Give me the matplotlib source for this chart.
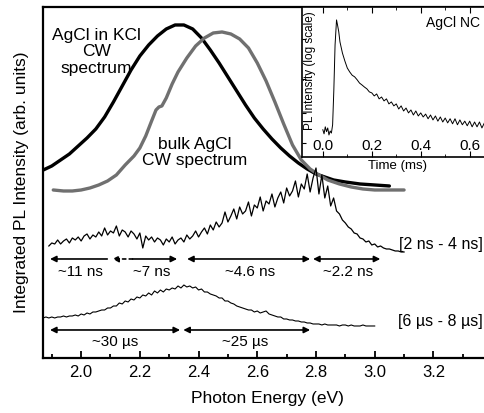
import numpy as np
import matplotlib
matplotlib.use("Agg")
import matplotlib.pyplot as plt
from matplotlib.ticker import MultipleLocator, FixedLocator, NullFormatter

plt.rcParams['font.family'] = ['Liberation Sans', 'DejaVu Sans']

# CW spectra (photon energy in eV, intensity in arb. units)
kcl_e = [1.871, 1.90, 1.93, 1.96, 1.99, 2.02, 2.05, 2.08, 2.11, 2.14,
         2.17, 2.20, 2.23, 2.26, 2.29, 2.32, 2.35, 2.38, 2.41, 2.44,
         2.47, 2.50, 2.53, 2.56, 2.59, 2.62, 2.65, 2.68, 2.71, 2.74,
         2.77, 2.80, 2.83, 2.86, 2.90, 2.95, 3.00, 3.05]
kcl_i = [1.88, 1.92, 1.98, 2.04, 2.12, 2.20, 2.29, 2.41, 2.56, 2.72,
         2.88, 3.02, 3.13, 3.22, 3.29, 3.33, 3.33, 3.29, 3.20, 3.08,
         2.95, 2.81, 2.67, 2.53, 2.40, 2.29, 2.19, 2.10, 2.02, 1.95,
         1.89, 1.84, 1.81, 1.78, 1.76, 1.74, 1.73, 1.72]

bulk_e = [1.905, 1.94, 1.97, 2.00, 2.03, 2.06, 2.09, 2.12, 2.15, 2.18,
          2.20, 2.22, 2.24, 2.255, 2.265, 2.275, 2.29, 2.31, 2.33, 2.36,
          2.39, 2.42, 2.45, 2.48, 2.51, 2.54, 2.57, 2.60, 2.63, 2.66,
          2.69, 2.72, 2.75, 2.78, 2.81, 2.84, 2.88, 2.92, 2.96, 3.00,
          3.05, 3.10]
bulk_i = [1.68, 1.67, 1.67, 1.68, 1.70, 1.73, 1.77, 1.83, 1.93, 2.02,
          2.10, 2.22, 2.37, 2.48, 2.51, 2.52, 2.60, 2.74, 2.86, 3.00,
          3.12, 3.20, 3.25, 3.26, 3.24, 3.19, 3.10, 2.95, 2.77, 2.56,
          2.34, 2.13, 1.98, 1.89, 1.83, 1.78, 1.74, 1.71, 1.69, 1.68,
          1.68, 1.68]

# time-resolved spectra, sampled every 0.01 eV
ns_start = 1.89
ns_i = [1.12, 1.15, 1.14, 1.18, 1.14, 1.17, 1.19, 1.15, 1.20, 1.18,
        1.21, 1.17, 1.22, 1.24, 1.19, 1.23, 1.21, 1.26, 1.22, 1.30,
        1.23, 1.27, 1.25, 1.32, 1.22, 1.28, 1.26, 1.21, 1.27, 1.24,
        1.19, 1.25, 1.10, 1.22, 1.18, 1.21, 1.16, 1.20, 1.18, 1.13,
        1.19, 1.16, 1.21, 1.14, 1.18, 1.20, 1.16, 1.23, 1.19, 1.22,
        1.27, 1.21, 1.26, 1.30, 1.24, 1.33, 1.28, 1.36, 1.31, 1.35,
        1.46, 1.36, 1.42, 1.49, 1.39, 1.51, 1.44, 1.47, 1.56, 1.42,
        1.53, 1.50, 1.61, 1.47, 1.57, 1.54, 1.64, 1.51, 1.60, 1.66,
        1.55, 1.70, 1.62, 1.67, 1.77, 1.61, 1.74, 1.69, 1.84, 1.66,
        1.80, 1.90, 1.64, 1.83, 1.60, 1.72, 1.52, 1.60, 1.47, 1.44,
        1.38, 1.35, 1.31, 1.29, 1.25, 1.24, 1.20, 1.19, 1.16, 1.17,
        1.13, 1.14, 1.11, 1.12, 1.10, 1.09, 1.09, 1.08, 1.07, 1.07,
        1.06, 1.06]

us_start = 1.87
us_i = [0.40, 0.41, 0.40, 0.41, 0.40, 0.41, 0.41, 0.42, 0.41, 0.42,
        0.42, 0.43, 0.42, 0.44, 0.43, 0.45, 0.44, 0.46, 0.46, 0.47,
        0.48, 0.48, 0.50, 0.50, 0.52, 0.52, 0.55, 0.54, 0.57, 0.56,
        0.59, 0.58, 0.61, 0.60, 0.63, 0.62, 0.65, 0.63, 0.67, 0.65,
        0.68, 0.66, 0.69, 0.68, 0.70, 0.69, 0.72, 0.70, 0.73, 0.71,
        0.72, 0.70, 0.71, 0.68, 0.69, 0.66, 0.66, 0.64, 0.63, 0.62,
        0.60, 0.60, 0.57, 0.57, 0.55, 0.54, 0.52, 0.51, 0.50, 0.49,
        0.48, 0.48, 0.46, 0.47, 0.45, 0.46, 0.47, 0.44, 0.43, 0.42,
        0.41, 0.41, 0.39, 0.39, 0.38, 0.38, 0.37, 0.37, 0.36, 0.36,
        0.35, 0.35, 0.34, 0.34, 0.34, 0.33, 0.34, 0.33, 0.33, 0.33,
        0.33, 0.32, 0.33, 0.33, 0.32, 0.33, 0.32, 0.32, 0.32, 0.33,
        0.32, 0.32, 0.32, 0.32]

# inset: PL decay, time in ms
decay_t = [0.000, 0.005, 0.010, 0.015, 0.020, 0.025, 0.030, 0.035, 0.040, 0.045,
           0.050, 0.056, 0.060, 0.065, 0.070, 0.080, 0.090, 0.100, 0.110, 0.120,
           0.130, 0.140, 0.150, 0.160, 0.170, 0.180, 0.190,
           0.20, 0.21, 0.22, 0.23, 0.24, 0.25, 0.26, 0.27, 0.28, 0.29,
           0.30, 0.31, 0.32, 0.33, 0.34, 0.35, 0.36, 0.37, 0.38, 0.39,
           0.40, 0.41, 0.42, 0.43, 0.44, 0.45, 0.46, 0.47, 0.48, 0.49,
           0.50, 0.51, 0.52, 0.53, 0.54, 0.55, 0.56, 0.57, 0.58, 0.59,
           0.60, 0.61, 0.62, 0.63, 0.64, 0.65, 0.66, 0.67, 0.68, 0.69, 0.70]
decay_i = [3.5, 2.9, 4.0, 3.2, 3.8, 2.75, 3.3, 3.0, 4.4, 22,
           174, 550, 437, 320, 200, 120, 83, 60, 50, 43,
           40, 35, 30, 27.5, 25, 23, 20,
           19.1, 16.6, 18.2, 14.5, 15.8, 13.2, 14.5, 11.5, 12.6, 10.5,
           11.5, 9.1, 10.5, 8.3, 9.5, 7.6, 8.7, 6.9, 8.3, 6.6,
           7.6, 6.3, 7.2, 5.8, 6.9, 5.5, 6.6, 5.2, 6.3, 5.0,
           6.0, 4.8, 5.8, 4.6, 5.8, 4.4, 5.5, 4.4, 5.2, 4.2,
           5.2, 4.0, 5.0, 4.0, 5.0, 3.8, 4.8, 3.8, 4.8, 3.8, 4.6]

# lifetime arrows: (start, end, y, style)
arrows_ns = [(1.894, 2.089, 0.99, '<|-'), (2.175, 2.327, 0.99, '-|>'),
             (2.361, 2.780, 0.99, '<|-|>'), (2.790, 3.019, 0.99, '<|-|>')]
arrows_us = [(1.894, 2.337, 0.28, '<|-|>'), (2.348, 2.780, 0.28, '<|-|>')]
labels_ns = [(1.997, '~11 ns'), (2.242, '~7 ns'), (2.576, '~4.6 ns'), (2.91, '~2.2 ns')]
labels_us = [(2.116, '~30 µs'), (2.56, '~25 µs')]

ns_e = np.round(ns_start + 0.01 * np.arange(len(ns_i)), 2)
us_e = np.round(us_start + 0.01 * np.arange(len(us_i)), 2)

fig = plt.figure(figsize=(4.84, 4.13), dpi=100)
ax = fig.add_axes([0.0888, 0.1332, 0.928, 0.8499])

ax.plot(kcl_e, kcl_i, color='black', lw=2.4, solid_capstyle='round', solid_joinstyle='round')
ax.plot(bulk_e, bulk_i, color='#707070', lw=2.4, solid_capstyle='round', solid_joinstyle='round')
ax.plot(ns_e, ns_i, color='black', lw=0.9)
ax.plot(us_e, us_i, color='black', lw=0.8)

ap = dict(color='black', lw=1.2, mutation_scale=9, shrinkA=0, shrinkB=0)
for x0, x1, y, st in arrows_ns + arrows_us:
    ax.annotate('', xy=(x1, y), xytext=(x0, y),
                arrowprops=dict(arrowstyle=st, **ap))
# dashed piece of the ~7 ns arrow
ax.annotate('', xy=(2.106, 0.99), xytext=(2.175, 0.99),
            arrowprops=dict(arrowstyle='-|>', linestyle=(0, (2, 2)), **ap))

for x, s in labels_ns:
    ax.text(x, 0.86, s, ha='center', va='center', fontsize=11)
for x, s in labels_us:
    ax.text(x, 0.16, s, ha='center', va='center', fontsize=11)

ax.text(2.051, 3.06, 'AgCl in KCl\nCW\nspectrum', ha='center', va='center',
        fontsize=12.5, linespacing=1.15)
ax.text(2.388, 2.055, 'bulk AgCl\nCW spectrum', ha='center', va='center',
        fontsize=12.5, linespacing=1.15)
ax.text(3.083, 1.13, '[2 ns - 4 ns]', ha='left', va='center', fontsize=11.5)
ax.text(3.08, 0.36, '[6 µs - 8 µs]', ha='left', va='center', fontsize=11.5)

ax.set_xlim(1.87, 3.40)
ax.set_ylim(0, 3.51)
ax.set_yticks([])
ax.xaxis.set_major_locator(FixedLocator([2.0, 2.2, 2.4, 2.6, 2.8, 3.0, 3.2]))
ax.xaxis.set_minor_locator(FixedLocator([1.9, 2.1, 2.3, 2.5, 2.7, 2.9, 3.1, 3.3]))
ax.xaxis.set_major_formatter(plt.FormatStrFormatter('%.1f'))
ax.tick_params(axis='x', which='both', direction='in', labelsize=12, pad=5, width=1.3)
ax.tick_params(axis='x', which='major', length=5)
ax.tick_params(axis='x', which='minor', length=3)
ax.set_xlabel('Photon Energy (eV)', fontsize=12.5, labelpad=8)
ax.set_ylabel('Integrated PL Intensity (arb. units)', fontsize=12.5, labelpad=10)
for s in ax.spines.values():
    s.set_linewidth(1.6)

# inset
ins = fig.add_axes([0.623, 0.620, 0.398, 0.3632])
ins.plot(decay_t, decay_i, color='black', lw=0.7)
ins.set_yscale('log')
ins.set_ylim(1, 1000)
ins.set_xlim(-0.087, 0.70)
ins.set_yticks([1.9, 7.6, 36, 229])
ins.yaxis.set_minor_locator(plt.NullLocator())
ins.yaxis.set_major_formatter(NullFormatter())
ins.xaxis.set_major_locator(MultipleLocator(0.2))
ins.xaxis.set_minor_locator(MultipleLocator(0.1))
ins.xaxis.set_major_formatter(plt.FormatStrFormatter('%.1f'))
ins.tick_params(axis='x', which='both', direction='in', top=True,
                labelsize=11, pad=-13)
ins.tick_params(axis='x', which='major', length=4)
ins.tick_params(axis='x', which='minor', length=2.5)
ins.tick_params(axis='y', direction='in', length=3)
ins.set_xlabel('Time (ms)', fontsize=9.5, labelpad=2)
ins.text(0.043, 0.573, 'PL Intensity (log scale)', transform=ins.transAxes,
         rotation=90, ha='center', va='center', fontsize=8.5)
ins.text(0.53, 479, 'AgCl NC', ha='center', va='center', fontsize=10)
for s in ins.spines.values():
    s.set_linewidth(1.2)

fig.savefig('out.png', dpi=100)
